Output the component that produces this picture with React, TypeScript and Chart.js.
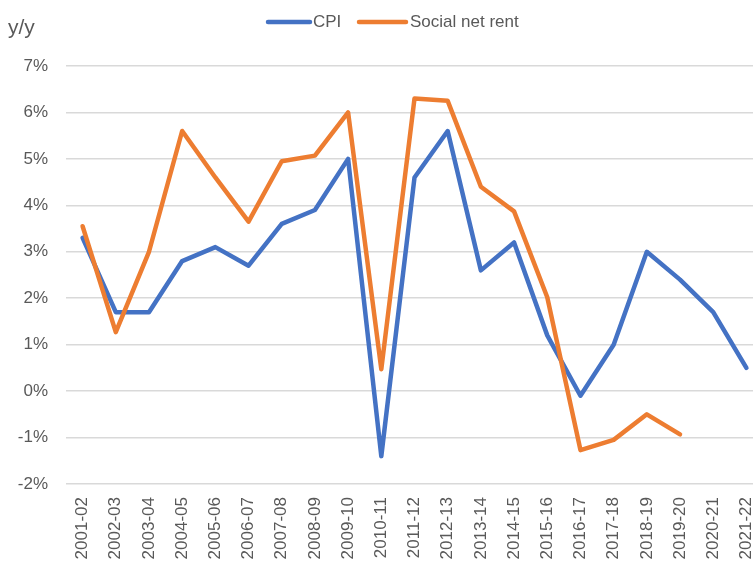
import React, { useEffect, useRef } from "react";
import { Chart, registerables } from "chart.js";

Chart.register(...registerables);

const categories = [
  "2001-02", "2002-03", "2003-04", "2004-05", "2005-06", "2006-07", "2007-08",
  "2008-09", "2009-10", "2010-11", "2011-12", "2012-13", "2013-14", "2014-15",
  "2015-16", "2016-17", "2017-18", "2018-19", "2019-20", "2020-21", "2021-22",
];

const cpiValues = [
  3.3, 1.7, 1.7, 2.8, 3.1, 2.7, 3.6, 3.9, 5.0, -1.4, 4.6, 5.6, 2.6, 3.2, 1.2,
  -0.1, 1.0, 3.0, 2.4, 1.7, 0.5,
];

const rentValues = [
  3.55, 1.27, 3.0, 5.6, 4.6, 3.65, 4.95, 5.07, 6.0, 0.47, 6.3, 6.25, 4.4, 3.87,
  2.02, -1.27, -1.05, -0.5, -0.93, null, null,
];

const yTicks = [-2, -1, 0, 1, 2, 3, 4, 5, 6, 7];

const seriesNames = ["CPI", "Social net rent"];
const seriesColors = ["#4472C4", "#ED7D31"];
const axisTitle = "y/y";

const FONT = "'Liberation Sans', Arial, sans-serif";
const TEXT = "#595959";

const overlayPlugin = {
  id: "overlay",
  afterDraw(chart: any) {
    const ctx = chart.ctx;
    ctx.save();
    // axis unit label
    ctx.fillStyle = TEXT;
    ctx.font = `21px ${FONT}`;
    ctx.textAlign = "left";
    ctx.textBaseline = "middle";
    ctx.fillText(axisTitle, 8, 28);
    // legend
    const y = 22;
    const items = [
      { x0: 268, x1: 310, tx: 313 },
      { x0: 359, x1: 406, tx: 410 },
    ];
    ctx.font = `17px ${FONT}`;
    items.forEach((it, i) => {
      ctx.strokeStyle = seriesColors[i];
      ctx.lineWidth = 4.5;
      ctx.lineCap = "round";
      ctx.beginPath();
      ctx.moveTo(it.x0, y);
      ctx.lineTo(it.x1, y);
      ctx.stroke();
      ctx.fillStyle = TEXT;
      ctx.fillText(seriesNames[i], it.tx, y);
    });
    ctx.restore();
  },
};

export default function App() {
  const ref = useRef<HTMLCanvasElement | null>(null);

  useEffect(() => {
    if (!ref.current) return;
    const chart = new Chart(ref.current, {
      type: "line",
      data: {
        labels: categories,
        datasets: [
          {
            label: seriesNames[0],
            data: cpiValues,
            borderColor: seriesColors[0],
            backgroundColor: seriesColors[0],
            borderWidth: 4.5,
            pointRadius: 0,
            tension: 0,
            borderCapStyle: "round",
            borderJoinStyle: "round",
            order: 1,
          },
          {
            label: seriesNames[1],
            data: rentValues,
            borderColor: seriesColors[1],
            backgroundColor: seriesColors[1],
            borderWidth: 4.5,
            pointRadius: 0,
            tension: 0,
            borderCapStyle: "round",
            borderJoinStyle: "round",
            spanGaps: false,
            order: 0,
          },
        ],
      },
      options: {
        animation: false,
        responsive: false,
        devicePixelRatio: 1,
        layout: { padding: { top: 66, left: 0, right: 29, bottom: 0 } },
        plugins: {
          legend: { display: false },
          tooltip: { enabled: false },
        },
        scales: {
          x: {
            offset: true,
            grid: { display: false, drawTicks: false },
            border: { display: false },
            ticks: {
              minRotation: 90,
              maxRotation: 90,
              autoSkip: false,
              padding: 13,
              color: TEXT,
              font: { family: FONT, size: 17 },
            },
            afterFit(scale: any) {
              scale.height = 79;
            },
          },
          y: {
            min: yTicks[0],
            max: yTicks[yTicks.length - 1],
            afterBuildTicks(scale: any) {
              scale.ticks = yTicks.map((v) => ({ value: v }));
            },
            grid: { color: "#D9D9D9", lineWidth: 1.5, drawTicks: false },
            border: { display: false },
            ticks: {
              padding: 18,
              color: TEXT,
              font: { family: FONT, size: 17 },
              callback: (v: any) => `${v}%`,
            },
            afterFit(scale: any) {
              scale.width = 66;
            },
          },
        },
      },
      plugins: [overlayPlugin],
    });
    return () => chart.destroy();
  }, []);

  return (
    <div
      style={{
        position: "fixed",
        left: 0,
        top: 0,
        width: 753,
        height: 563,
        overflow: "hidden",
        background: "#fff",
      }}
    >
      <canvas ref={ref} width={792} height={563} style={{ display: "block" }} />
    </div>
  );
}
